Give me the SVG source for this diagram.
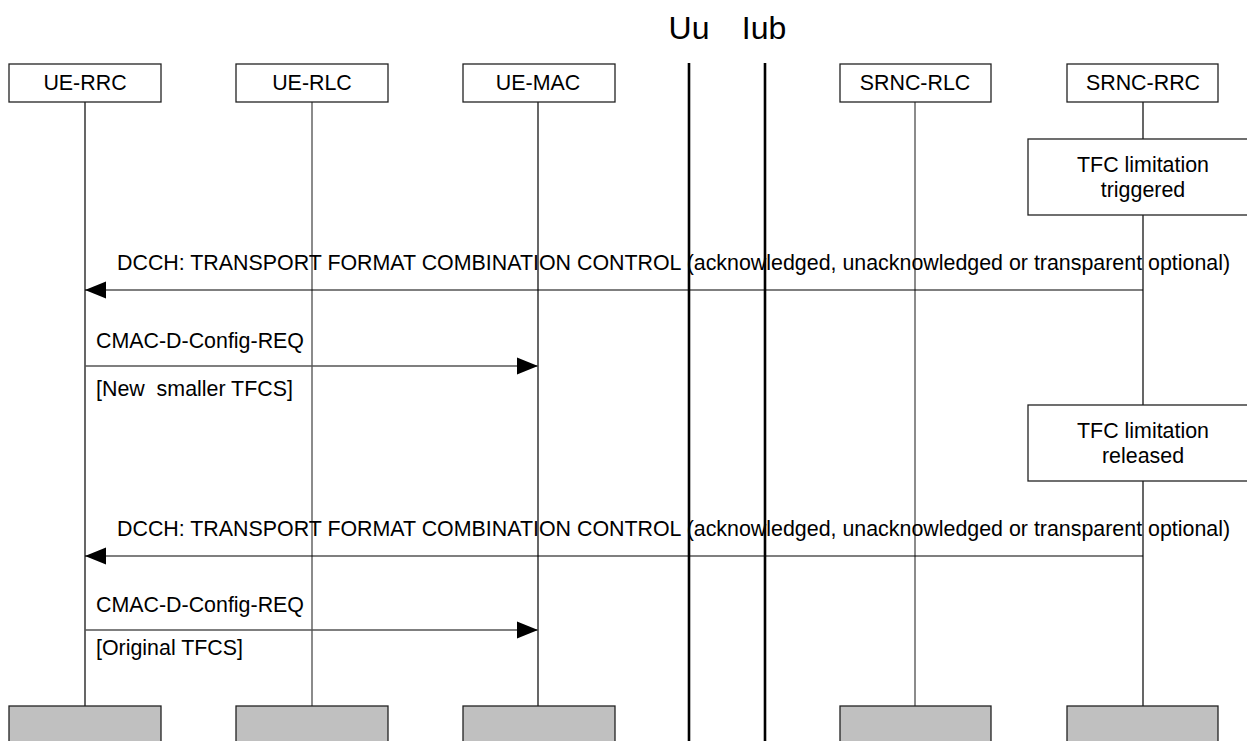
<svg xmlns="http://www.w3.org/2000/svg" width="1247" height="741" viewBox="0 0 1247 741">
<defs>
<marker id="ah" markerWidth="21" markerHeight="18" viewBox="0 0 21 18" refX="21" refY="9" orient="auto" markerUnits="userSpaceOnUse">
<path d="M0,0.5 L21,9 L0,17.5 Z" fill="#000"/>
</marker>
<style>
text{font-family:"Liberation Sans",Arial,sans-serif;font-size:21.4px;fill:#000}
.hd{fill:#fff;stroke:#222;stroke-width:1.3}
.ft{fill:#c0c0c0;stroke:#222;stroke-width:1.3}
.ll{stroke:#000;stroke-width:1.2}
.lg{stroke:#6e6e6e;stroke-width:1.6}
.bar{stroke:#000;stroke-width:2.6}
.msg{stroke:#000;stroke-width:1.2;marker-end:url(#ah)}
.msgg{stroke:#555;stroke-width:1.4;marker-end:url(#ah)}
.c{text-anchor:middle}
.big{font-size:32px}
</style>
</defs>
<rect width="1247" height="741" fill="#fff"/>
<g id="interfaces">
<text x="689" y="39" class="c big">Uu</text>
<text x="764" y="39" class="c big">Iub</text>
<line class="bar" x1="689" y1="63" x2="689" y2="741"/>
<line class="bar" x1="765" y1="63" x2="765" y2="741"/>
</g>
<g id="lifelines">
<line class="ll" x1="85" y1="102" x2="85" y2="706"/>
<line class="lg" x1="312" y1="102" x2="312" y2="706"/>
<line class="ll" x1="538" y1="102" x2="538" y2="706"/>
<line class="lg" x1="915" y1="102" x2="915" y2="706"/>
<line class="ll" x1="1143" y1="102" x2="1143" y2="706"/>
</g>
<g id="ue-rrc"><rect class="hd" x="9" y="64" width="152" height="38"/><text x="85" y="90" class="c">UE-RRC</text><rect class="ft" x="9" y="706" width="152" height="40"/></g>
<g id="ue-rlc"><rect class="hd" x="236" y="64" width="152" height="38"/><text x="312" y="90" class="c">UE-RLC</text><rect class="ft" x="236" y="706" width="152" height="40"/></g>
<g id="ue-mac"><rect class="hd" x="463" y="64" width="152" height="38"/><text x="538" y="90" class="c">UE-MAC</text><rect class="ft" x="463" y="706" width="152" height="40"/></g>
<g id="srnc-rlc"><rect class="hd" x="840" y="64" width="151" height="38"/><text x="915" y="90" class="c">SRNC-RLC</text><rect class="ft" x="840" y="706" width="151" height="40"/></g>
<g id="srnc-rrc"><rect class="hd" x="1067" y="64" width="151" height="38"/><text x="1143" y="90" class="c">SRNC-RRC</text><rect class="ft" x="1067" y="706" width="151" height="40"/></g>
<g id="tfc-triggered"><rect class="hd" x="1028" y="139" width="232" height="76"/><text x="1143" y="172" class="c">TFC limitation</text><text x="1143" y="197" class="c">triggered</text></g>
<g id="tfc-released"><rect class="hd" x="1028" y="405" width="232" height="76"/><text x="1143" y="438" class="c">TFC limitation</text><text x="1143" y="463" class="c">released</text></g>
<g id="connectors">
<line class="msg" x1="1143" y1="290" x2="85" y2="290"/>
<line class="msgg" x1="85" y1="366" x2="538" y2="366"/>
<line class="msg" x1="1143" y1="556" x2="85" y2="556"/>
<line class="msgg" x1="85" y1="630" x2="538" y2="630"/>
</g>
<g id="labels">
<text x="117" y="270">DCCH: TRANSPORT FORMAT COMBINATION CONTROL (acknowledged, unacknowledged or transparent optional)</text>
<text x="96" y="348">CMAC-D-Config-REQ</text>
<text x="96" y="396" xml:space="preserve">[New  smaller TFCS]</text>
<text x="117" y="536">DCCH: TRANSPORT FORMAT COMBINATION CONTROL (acknowledged, unacknowledged or transparent optional)</text>
<text x="96" y="612">CMAC-D-Config-REQ</text>
<text x="96" y="655">[Original TFCS]</text>
</g>
</svg>
